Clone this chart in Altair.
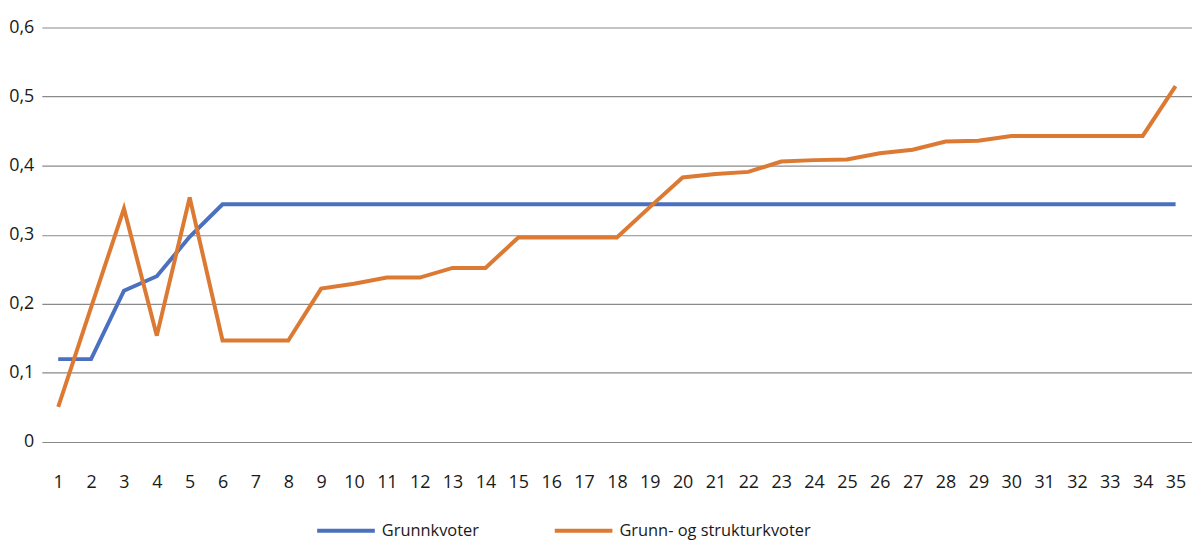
import altair as alt
import pandas as pd

periods = list(range(1, 36))
grunnkvoter = [0.120, 0.120, 0.219, 0.240, 0.297, 0.344, 0.344, 0.344, 0.344, 0.344,
               0.344, 0.344, 0.344, 0.344, 0.344, 0.344, 0.344, 0.344, 0.344, 0.344,
               0.344, 0.344, 0.344, 0.344, 0.344, 0.344, 0.344, 0.344, 0.344, 0.344,
               0.344, 0.344, 0.344, 0.344, 0.344]
grunn_struktur = [0.051, 0.195, 0.338, 0.154, 0.354, 0.147, 0.147, 0.147, 0.222, 0.229,
                  0.238, 0.238, 0.252, 0.252, 0.296, 0.296, 0.296, 0.296, 0.340, 0.383,
                  0.388, 0.391, 0.406, 0.408, 0.409, 0.418, 0.423, 0.435, 0.436, 0.443,
                  0.443, 0.443, 0.443, 0.443, 0.515]
series_names = ["Grunnkvoter", "Grunn- og strukturkvoter"]
colors = ["#4a70bf", "#dc7a33"]

rows = []
for p, v in zip(periods, grunnkvoter):
    rows.append({"x": p, "y": v, "serie": series_names[0]})
for p, v in zip(periods, grunn_struktur):
    rows.append({"x": p, "y": v, "serie": series_names[1]})
df = pd.DataFrame(rows)

font = "Open Sans"

chart = alt.Chart(df).mark_line(strokeWidth=4).encode(
    x=alt.X("x:O", sort=periods,
            scale=alt.Scale(type="point", padding=0.5),
            axis=alt.Axis(title=None, labelAngle=0, domain=False, ticks=False,
                          grid=False, labelFontSize=18, labelFont=font,
                          labelColor="#1a1a1a", labelPadding=32)),
    y=alt.Y("y:Q", scale=alt.Scale(domain=[0, 0.6], nice=False),
            axis=alt.Axis(title=None, values=[0, 0.1, 0.2, 0.3, 0.4, 0.5, 0.6],
                          domain=False, ticks=False, grid=True,
                          gridColor="#8a8a8a", gridWidth=1.2,
                          labelFontSize=18, labelFont=font, labelColor="#1a1a1a",
                          labelPadding=8,
                          labelExpr="datum.value == 0 ? '0' : replace(format(datum.value, '.1f'), '.', ',')")),
    color=alt.Color("serie:N", sort=series_names,
                    scale=alt.Scale(domain=series_names, range=colors),
                    legend=alt.Legend(title=None, orient="none", direction="horizontal",
                                      legendX=275, legendY=475,
                                      symbolType="stroke", symbolSize=3364,
                                      symbolStrokeWidth=4, labelOffset=5,
                                      columnPadding=68, labelFontSize=16.5,
                                      labelLimit=0,
                                      labelFont=font, labelColor="#1a1a1a"))
).properties(
    width=1157, height=417,
    autosize=alt.AutoSizeParams(type="none"),
    padding={"left": 34, "top": 18, "right": 0, "bottom": 105}
).configure_view(stroke=None)

chart.save("out.html", embed_options={"renderer": "svg", "actions": False})
